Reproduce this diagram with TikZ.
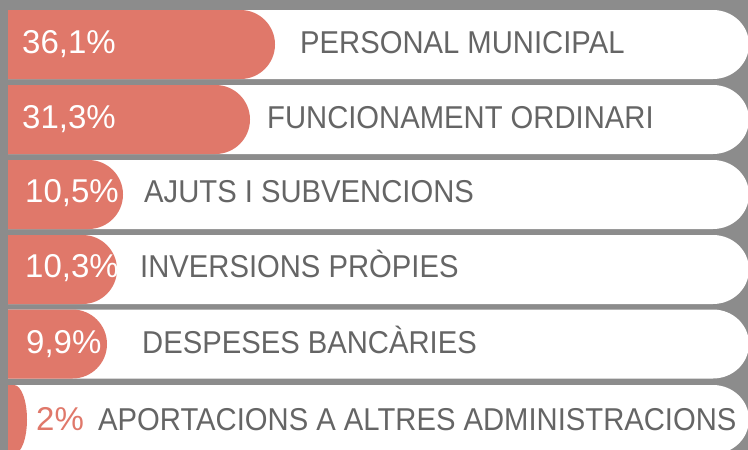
\documentclass[tikz,border=0pt]{standalone}
\usepackage{fontspec}
\setmainfont{Liberation Sans}[FakeStretch=0.925]
\newfontfamily\pctfont{Liberation Sans}
\definecolor{bggray}{HTML}{8C8C8C}
\definecolor{salmon}{HTML}{E0786A}
\definecolor{txtgray}{HTML}{656565}
\tikzset{
  whitebar/.style={fill=white},
  salmonbar/.style={fill=salmon},
  pct/.style={anchor=base west, inner sep=0pt, text=white, font=\pctfont\fontsize{33}{34}\selectfont},
  lbl/.style={anchor=base west, inner sep=0pt, text=txtgray, font=\fontsize{31.6}{33}\selectfont},
}
\begin{document}
\begin{tikzpicture}[x=1pt,y=-1pt]
\fill[bggray] (0,0) rectangle (748,450);
\useasboundingbox (0,0) rectangle (748,450);
% white bars
\foreach \t in {10,85,160,235,309.5,385}{
  \fill[whitebar] (8,\t) -- (713,\t) arc[start angle=90,end angle=-90,x radius=36pt,y radius=34.5pt] -- (8,\t+69) -- cycle;
}
% salmon bars
\fill[salmonbar] (8,10) -- (240.5,10) arc[start angle=90,end angle=-90,x radius=34.5pt,y radius=34.5pt] -- (8,79) -- cycle;
\fill[salmonbar] (8,85) -- (215.5,85) arc[start angle=90,end angle=-90,x radius=34.5pt,y radius=34.5pt] -- (8,154) -- cycle;
\fill[salmonbar] (8,160) -- (88.5,160) arc[start angle=90,end angle=-90,x radius=34.5pt,y radius=34.5pt] -- (8,229) -- cycle;
\fill[salmonbar] (8,235) -- (82.5,235) arc[start angle=90,end angle=-90,x radius=34.5pt,y radius=34.5pt] -- (8,304) -- cycle;
\fill[salmonbar] (8,309.5) -- (72.5,309.5) arc[start angle=90,end angle=-90,x radius=34.5pt,y radius=34.5pt] -- (8,378.5) -- cycle;
\fill[salmonbar] (8,385) -- (14,385) arc[start angle=90,end angle=-90,x radius=13pt,y radius=34.5pt] -- (8,454) -- cycle;
% percentages
\node[pct] (p1) at (22,53) {36,1\%};
\node[pct] (p2) at (22,128.5) {31,3\%};
\node[pct] (p3) at (25,202.5) {10,5\%};
\node[pct] (p4) at (25,277) {10,3\%};
\node[pct] (p5) at (26,353) {9,9\%};
\node[pct, text=salmon] (p6) at (36,430) {2\%};
% labels
\node[lbl] (l1) at (300,53) {PERSONAL MUNICIPAL};
\node[lbl] (l2) at (267,128.5) {FUNCIONAMENT ORDINARI};
\node[lbl] (l3) at (144,202.5) {AJUTS I SUBVENCIONS};
\node[lbl] (l4) at (140,277) {INVERSIONS PRÒPIES};
\node[lbl] (l5) at (142,353) {DESPESES BANCÀRIES};
\node[lbl] (l6) at (98,430) {APORTACIONS A ALTRES ADMINISTRACIONS};
\end{tikzpicture}
\end{document}
